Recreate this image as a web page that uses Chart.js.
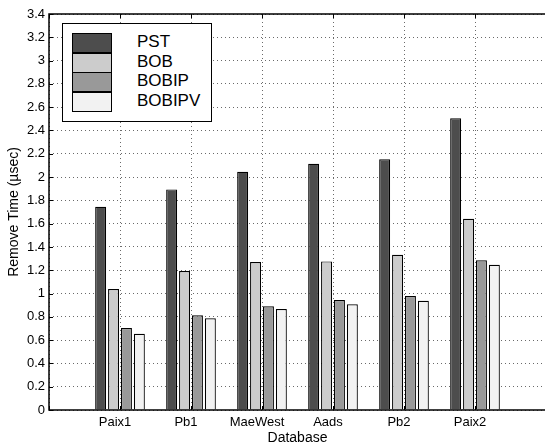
<!DOCTYPE html>
<html>
<head>
<meta charset="utf-8">
<script src="https://cdn.jsdelivr.net/npm/chart.js@4/dist/chart.umd.min.js"></script>
<style>
  html, body { margin: 0; padding: 0; background: #fff; overflow: hidden; }
  #wrap { position: relative; width: 551px; height: 447px; }
  #legend {
    position: absolute; left: 62px; top: 23px; width: 148px; height: 97px;
    border: 1.5px solid #000; background: #fff;
    font-family: "Liberation Sans", Arial, sans-serif; font-size: 17px;
  }
  #legend .row { position: absolute; left: 9px; height: 20px; width: 140px; }
  #legend .sw { position: absolute; left: 0; top: 0; width: 38px; height: 18px; border: 1px solid #000; }
  #legend .lb { position: absolute; left: 65px; top: 0; line-height: 18px; color: #000; }
</style>
</head>
<body>
<div id="wrap">
  <canvas id="chart" width="551" height="447"></canvas>
  <div id="legend"></div>
</div>
<script>
const databases = ['Paix1', 'Pb1', 'MaeWest', 'Aads', 'Pb2', 'Paix2']
const seriesNames = ['PST', 'BOB', 'BOBIP', 'BOBIPV']
const pst    = [1.745, 1.894, 2.046, 2.114, 2.152, 2.505]
const bob    = [1.039, 1.193, 1.270, 1.276, 1.333, 1.642]
const bobip  = [0.704, 0.813, 0.890, 0.944, 0.979, 1.285]
const bobipv = [0.655, 0.787, 0.867, 0.907, 0.938, 1.247]
const colors = ['#4d4d4d', '#cccccc', '#999999', '#f2f2f2']

const tickFont = { family: '"Liberation Sans", Arial, sans-serif', size: 13 }
const titleFont = { family: '"Liberation Sans", Arial, sans-serif', size: 14 }

const toPoints = vals => vals.map((v, i) => ({ x: i + 1, y: v }))

const datasets = [pst, bob, bobip, bobipv].map((vals, i) => ({
    label: seriesNames[i],
    data: toPoints(vals),
    backgroundColor: colors[i],
    borderColor: '#000',
    borderWidth: 1.2,
    categoryPercentage: 0.727,
    barPercentage: 0.85
}))

// box round the plot plus inward tick marks, like matlab
const frame = {
    id: 'frame',
    afterDraw(chart) {
        const { ctx, chartArea: a, scales } = chart
        ctx.save()
        ctx.strokeStyle = '#000'
        ctx.lineWidth = 1.5
        ctx.strokeRect(a.left, a.top, a.right - a.left, a.bottom - a.top)
        ctx.lineWidth = 1
        ctx.beginPath()
        scales.y.ticks.forEach(t => {
            const py = Math.round(scales.y.getPixelForValue(t.value)) + 0.5
            ctx.moveTo(a.left, py); ctx.lineTo(a.left + 4, py)
        })
        scales.x.ticks.forEach(t => {
            const px = Math.round(scales.x.getPixelForValue(t.value)) + 0.5
            ctx.moveTo(px, a.bottom); ctx.lineTo(px, a.bottom - 4)
            ctx.moveTo(px, a.top); ctx.lineTo(px, a.top + 4)
        })
        ctx.stroke()
        ctx.restore()
    }
}

const gridStyle = {
    color: '#6a6a6a',
    lineWidth: 1,
    drawTicks: false,
    offset: false
}

new Chart('chart', {
    type: 'bar',
    data: { datasets },
    options: {
        responsive: false,
        animation: false,
        layout: { padding: { top: 14, right: 0, left: 0, bottom: 0 } },
        plugins: {
            legend: { display: false },
            tooltip: { enabled: false }
        },
        scales: {
            x: {
                type: 'linear',
                min: 0,
                max: 7,
                offset: false,
                grid: gridStyle,
                border: { display: false, dash: [1, 3] },
                ticks: {
                    stepSize: 1,
                    color: '#000',
                    font: tickFont,
                    padding: 5,
                    labelOffset: -5,
                    maxRotation: 0,
                    autoSkip: false,
                    callback: v => databases[v - 1] || ''
                },
                title: { display: true, text: 'Database', color: '#000', font: titleFont, padding: { top: -3, bottom: 0 } },
                afterFit: s => { s.height = 37 }
            },
            y: {
                min: 0,
                max: 3.4,
                grid: gridStyle,
                border: { display: false, dash: [1, 3] },
                ticks: {
                    stepSize: 0.2,
                    color: '#000',
                    font: tickFont,
                    padding: 4,
                    callback: v => String(Number(v.toFixed(1)))
                },
                title: { display: true, text: 'Remove Time (µsec)', color: '#000', font: titleFont, padding: { top: 6, bottom: 0 } },
                afterFit: s => { s.width = 49 }
            }
        }
    },
    plugins: [frame]
})

const legend = document.getElementById('legend')
seriesNames.forEach((name, i) => {
    const row = document.createElement('div')
    row.className = 'row'
    row.style.top = (9 + i * 19.5) + 'px'
    row.innerHTML = `<div class="sw" style="background:${colors[i]}"></div><div class="lb">${name}</div>`
    legend.appendChild(row)
})
</script>
</body>
</html>
